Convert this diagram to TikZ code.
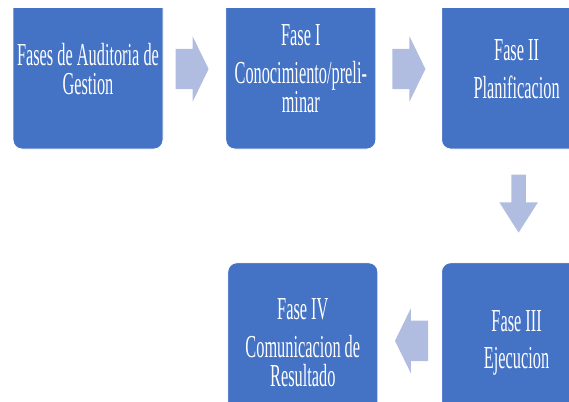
\documentclass[tikz,border=0pt]{standalone}
\usepackage{fontspec}
\setmainfont[FakeStretch=0.51]{Liberation Serif}
\usetikzlibrary{shapes.arrows,positioning,calc}
\definecolor{faseblue}{RGB}{68,114,196}
\definecolor{flechablue}{RGB}{176,189,224}

\begin{document}
\begin{tikzpicture}[
  x=1pt,y=1pt,
  fase/.style={draw=white,line width=0.8pt,rounded corners=9pt,fill=faseblue,text=white,align=center,
    minimum width=150pt,minimum height=160pt,inner sep=0pt,font=\fontsize{32}{29.5}\selectfont},
  flecha/.style={single arrow,fill=flechablue,draw=none,inner xsep=0pt,single arrow head indent=0pt,anchor=tail},
  hflecha/.style={flecha,minimum height=33pt,inner ysep=20pt,single arrow head extend=12.5pt,single arrow tip angle=128},
  vflecha/.style={flecha,minimum height=58pt,inner ysep=7pt,single arrow head extend=12pt,single arrow tip angle=65}
]
\useasboundingbox (0,0) rectangle (569,-401);

% boxes, cut at the page edges
\begin{scope}
  \clip (0,-9) rectangle (569,-401);
  % top row
  \node[fase] (fases) at (88,-69) {Fases de Auditoria de\\Gestion};
  \node[fase,right=62pt of fases] (fase1) {Fase I\\[8pt]Conocimiento/preli-\\minar};
  \node[fase,right=65pt of fase1] (fase2) {Fase II\\[8pt]Planificacion};
  % bottom row
  \node[fase,below=113pt of fase2] (fase3) {Fase III\\[8pt]Ejecucion};
  \node[fase,left=63pt of fase3] (fase4) {Fase IV\\[8pt]Comunicacion de\\Resultado};
\end{scope}

% block arrows (placed by their tails)
\node[hflecha] (f1) at ($(fases.east)+(12pt,0)$) {};
\node[hflecha] (f2) at ($(fase1.east)+(16pt,0)$) {};
\node[vflecha,rotate=-90] (f3) at ($(fase2.south)+(2pt,-25pt)$) {};
\node[hflecha,rotate=180] (f4) at ($(fase3.west)+(-13pt,2pt)$) {};
\end{tikzpicture}
\end{document}
